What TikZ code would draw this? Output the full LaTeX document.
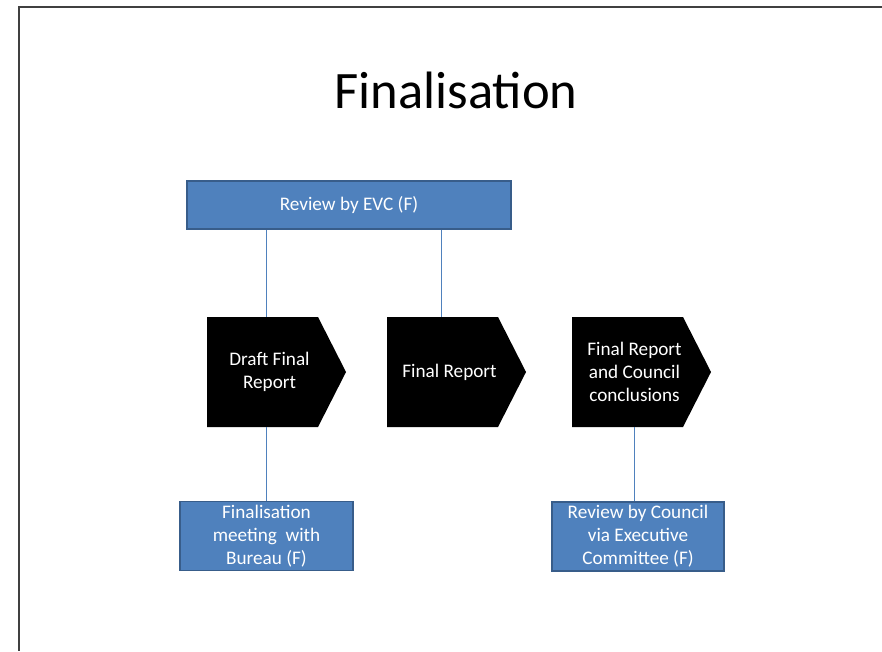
\documentclass[tikz,border=0pt]{standalone}
\usepackage{fontspec}
\setmainfont{Carlito}
\usetikzlibrary{calc}
\definecolor{boxblue}{RGB}{79,129,189}
\definecolor{boxedge}{RGB}{56,93,138}
\newcommand{\boxfont}{\fontsize{19.2}{23}\selectfont}

\begin{document}
\begin{tikzpicture}[x=1pt,y=-1pt,
  bluebox/.style={draw=boxedge, line width=1.5pt, fill=boxblue, text=white,
    align=center, font=\boxfont, inner sep=0pt},
  chevron/.style={minimum width=153pt, minimum height=110pt, inner sep=0pt,
    text=white, align=center, font=\boxfont,
    path picture={\fill[black]
      ([xshift=14pt]path picture bounding box.north west)
      -- ([xshift=-28pt]path picture bounding box.north east)
      -- (path picture bounding box.east)
      -- ([xshift=-28pt]path picture bounding box.south east)
      -- ([xshift=14pt]path picture bounding box.south west) -- cycle;}},
  link/.style={draw=boxblue, line width=0.8pt}]
  \useasboundingbox (0,0) rectangle (882,651);

  % slide frame
  \draw[black!75, line width=2pt] (882,7) -- (19,7) -- (19,651);

  % title
  \node[font=\fontsize{52.6}{60}\selectfont] (title) at (456,90) {Finalisation};

  % boxes
  \node[bluebox, minimum width=324pt, minimum height=48pt] (evc) at (349,205) {Review by EVC (F)};
  \node[chevron] (draft) at (269.5,372) {Draft Final\\Report};
  \node[chevron] (final) at (449.5,372) {Final Report};
  \node[chevron] (council) at (634.5,372) {Final Report\\and Council\\conclusions};
  \node[bluebox, minimum width=173pt, minimum height=69pt] (meeting) at (266.5,536) {Finalisation\\meeting~ with\\Bureau (F)};
  \node[bluebox, minimum width=172pt, minimum height=69pt] (review) at (638,536.5) {Review by Council\\via Executive\\Committee (F)};

  % connectors
  \draw[link] (evc.south -| meeting.north) -- (draft.north -| meeting.north);
  \draw[link] ([xshift=-8pt]final.north |- evc.south) -- ([xshift=-8pt]final.north);
  \draw[link] (draft.south -| meeting.north) -- (meeting.north);
  \draw[link] (council.south) -- (council.south |- review.north);

\end{tikzpicture}
\end{document}
